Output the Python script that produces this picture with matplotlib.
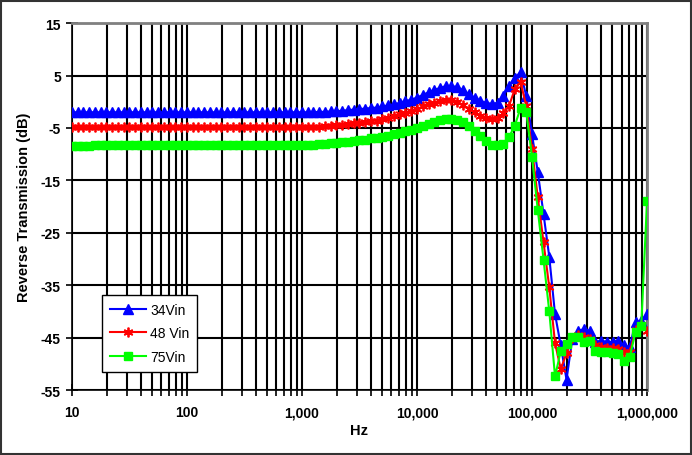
import matplotlib.pyplot as plt
import matplotlib.ticker as mticker
from matplotlib.patches import Rectangle

plt.rcParams['font.family'] = ['Liberation Sans', 'DejaVu Sans']
plt.rcParams['axes.unicode_minus'] = False

# sweep frequencies (Hz), 20 points per decade
freq = [10, 11.22, 12.59, 14.13, 15.85, 17.78, 19.95, 22.39, 25.12, 28.18,
        31.62, 35.48, 39.81, 44.67, 50.12, 56.23, 63.10, 70.79, 79.43, 89.13,
        100, 112.2, 125.9, 141.3, 158.5, 177.8, 199.5, 223.9, 251.2, 281.8,
        316.2, 354.8, 398.1, 446.7, 501.2, 562.3, 631.0, 707.9, 794.3, 891.3,
        1000, 1122, 1259, 1413, 1585, 1778, 1995, 2239, 2512, 2818,
        3162, 3548, 3981, 4467, 5012, 5623, 6310, 7079, 7943, 8913,
        10000, 11220, 12590, 14130, 15850, 17780, 19950, 22390, 25120, 28180,
        31620, 35480, 39810, 44670, 50120, 56230, 63100, 70790, 79430, 89130,
        100000, 112200, 125900, 141300, 158500, 177800, 199500, 223900, 251200, 281800,
        316200, 354800, 398100, 446700, 501200, 562300, 631000, 707900, 794300, 891300,
        1000000]

vin34 = [-2.0, -2.0, -2.0, -2.0, -2.0, -2.0, -2.0, -2.0, -2.0, -2.0,
         -2.0, -2.0, -2.0, -2.0, -2.0, -2.0, -2.0, -2.0, -2.0, -2.0,
         -2.0, -2.0, -2.0, -2.0, -2.0, -2.0, -2.0, -2.0, -2.0, -2.0,
         -2.0, -2.0, -2.0, -2.0, -2.0, -2.0, -2.0, -2.0, -2.0, -2.0,
         -2.0, -2.0, -1.95, -1.95, -1.9, -1.85, -1.8, -1.7, -1.6, -1.5,
         -1.4, -1.3, -1.2, -1.1, -0.9, -0.7, -0.5, -0.2, 0.1, 0.4,
         0.8, 1.3, 1.8, 2.3, 2.6, 3.0, 3.0, 2.8, 2.2, 1.5,
         0.8, 0.2, -0.2, -0.4, -0.2, 1.1, 3.0, 4.6, 5.6, 1.1,
         -6.2, -13.4, -21.4, -29.6, -40.5, -46.5, -53.0, -45.3, -43.7, -43.4,
         -43.7, -45.8, -45.6, -45.8, -45.8, -45.6, -46.5, -46.8, -42.0, -41.8,
         -40.5]

vin48 = [-4.9, -4.9, -4.9, -4.9, -4.9, -4.9, -4.9, -4.9, -4.9, -4.9,
         -4.9, -4.9, -4.9, -4.9, -4.9, -4.9, -4.9, -4.9, -4.9, -4.9,
         -4.9, -4.9, -4.9, -4.9, -4.9, -4.9, -4.9, -4.9, -4.9, -4.9,
         -4.9, -4.9, -4.9, -4.9, -4.9, -4.9, -4.9, -4.9, -4.9, -4.9,
         -4.9, -4.85, -4.8, -4.8, -4.7, -4.6, -4.5, -4.4, -4.3, -4.1,
         -4.0, -3.9, -3.7, -3.6, -3.3, -3.0, -2.7, -2.4, -2.1, -1.8,
         -1.4, -0.9, -0.5, -0.2, 0.1, 0.3, 0.3, 0.0, -0.6, -1.3,
         -2.0, -2.7, -3.1, -3.3, -3.1, -2.2, -0.8, 2.4, 3.8, -0.8,
         -9.0, -18.2, -26.8, -35.4, -46.0, -51.0, -48.0, -45.0, -44.5, -44.8,
         -45.3, -46.5, -46.8, -47.0, -47.0, -47.2, -47.8, -47.8, -43.5, -42.5,
         -43.8]

vin75 = [-8.5, -8.5, -8.5, -8.5, -8.3, -8.3, -8.3, -8.3, -8.3, -8.3,
         -8.3, -8.3, -8.3, -8.3, -8.3, -8.3, -8.3, -8.3, -8.3, -8.3,
         -8.3, -8.3, -8.3, -8.3, -8.3, -8.3, -8.3, -8.3, -8.3, -8.3,
         -8.3, -8.3, -8.3, -8.3, -8.3, -8.3, -8.3, -8.3, -8.3, -8.3,
         -8.3, -8.25, -8.2, -8.1, -8.0, -7.9, -7.8, -7.7, -7.6, -7.4,
         -7.3, -7.2, -7.0, -6.9, -6.7, -6.5, -6.2, -5.9, -5.6, -5.3,
         -5.0, -4.6, -4.2, -3.8, -3.5, -3.3, -3.3, -3.5, -3.9, -4.6,
         -5.5, -6.5, -7.5, -8.2, -8.3, -8.0, -6.7, -4.6, -1.2, -2.0,
         -10.5, -20.6, -30.1, -40.0, -52.4, -47.6, -46.2, -44.9, -44.9, -45.8,
         -45.6, -47.5, -47.8, -47.8, -48.0, -48.1, -49.4, -48.7, -43.9, -42.7,
         -19.0]

fig = plt.figure(figsize=(6.92, 4.56), dpi=100)
ax = fig.add_axes([0.104, 0.1425, 0.831, 0.8045])

ax.plot(freq, vin34, color='#0000FF', marker='^', markersize=6.5, lw=1.5,
        label='34Vin', zorder=3)
ax.plot(freq, vin48, color='#FF0000', marker=(6, 2, 0), markersize=7, lw=1.5,
        mew=1.3, label='48 Vin', zorder=4)
ax.plot(freq, vin75, color='#00FF00', marker='s', markersize=6, lw=1.5,
        label='75Vin', zorder=5)

ax.set_xscale('log')
ax.set_xlim(10, 1e6)
ax.set_ylim(-55, 15)
ax.set_yticks(range(-55, 16, 10))
ax.xaxis.set_major_formatter(mticker.FuncFormatter(lambda v, p: f'{v:,.0f}'))
ax.xaxis.set_minor_locator(mticker.LogLocator(base=10, subs=range(2, 10)))
ax.xaxis.set_minor_formatter(mticker.NullFormatter())

ax.grid(True, which='both', axis='x', color='black', lw=1.5)
ax.grid(True, which='major', axis='y', color='black', lw=1.5)
ax.set_axisbelow(True)

ax.tick_params(axis='both', which='both', direction='inout', length=8,
               width=1.2, color='black', labelsize=10)
ax.tick_params(axis='x', which='major', pad=7)
ax.tick_params(axis='y', which='major', pad=4)
for lbl in ax.get_xticklabels() + ax.get_yticklabels():
    lbl.set_fontweight('bold')

for side in ['top', 'right']:
    ax.spines[side].set_color('#808080')
    ax.spines[side].set_linewidth(2)
for side in ['left', 'bottom']:
    ax.spines[side].set_color('black')
    ax.spines[side].set_linewidth(1.2)

ax.set_xlabel('Hz', fontsize=10.5, fontweight='bold', labelpad=3)
ax.set_ylabel('Reverse Transmission (dB)', fontsize=10.5, fontweight='bold',
              labelpad=7)

leg = ax.legend(loc='lower left', bbox_to_anchor=(0.052, 0.05), fontsize=10,
                frameon=True, fancybox=False, edgecolor='black',
                handlelength=2.6, borderpad=0.55, labelspacing=0.7,
                handletextpad=0.35, borderaxespad=0)
leg.get_frame().set_linewidth(1.0)
leg.get_frame().set_alpha(1)
leg.set_zorder(10)

fig.patches.append(Rectangle((0.002, 0.002), 0.996, 0.994, transform=fig.transFigure,
                             fill=False, edgecolor='#333333', lw=1.5))

fig.savefig('out.png', dpi=100)
